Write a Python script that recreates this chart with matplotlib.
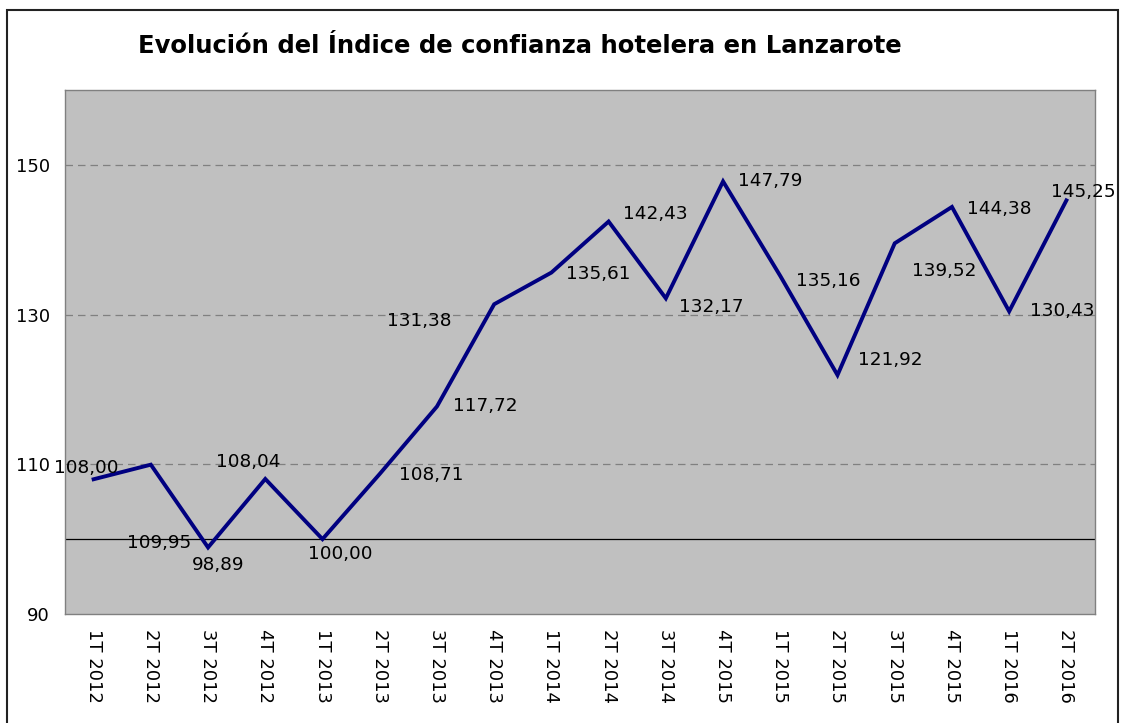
import matplotlib.pyplot as plt
from matplotlib.patches import Rectangle

trimestres = ["1T 2012", "2T 2012", "3T 2012", "4T 2012", "1T 2013", "2T 2013",
              "3T 2013", "4T 2013", "1T 2014", "2T 2014", "3T 2014", "4T 2015",
              "1T 2015", "2T 2015", "3T 2015", "4T 2015", "1T 2016", "2T 2016"]
indice = [108.00, 109.95, 98.89, 108.04, 100.00, 108.71, 117.72, 131.38, 135.61,
          142.43, 132.17, 147.79, 135.16, 121.92, 139.52, 144.38, 130.43, 145.25]
y_ticks = [90, 110, 130, 150]

# desplazamiento de cada etiqueta en pixeles (como en el original)
offsets = [(-7, 11), (8, -78), (10, -18), (-17, 17), (18, -15), (52, -1),
           (48, 0), (-75, -17), (47, -1), (47, 8), (45, -9), (47, 0),
           (48, -5), (53, 15), (50, -28), (47, -2), (53, 0), (17, 8)]

fig = plt.figure(figsize=(11.22, 7.23), dpi=100)
fig.patch.set_facecolor("white")
fig.patches.append(Rectangle((7 / 1122, -0.05), 1111 / 1122, 1.05 - 10 / 723,
                             transform=fig.transFigure, fill=False,
                             edgecolor="#222222", linewidth=1.5))

ax = fig.add_axes([65 / 1122, 109 / 723, 1030 / 1122, 524 / 723])
ax.set_facecolor("#C0C0C0")
for s in ax.spines.values():
    s.set_color("#808080")
    s.set_linewidth(1)

x = list(range(len(trimestres)))
for v in [110, 130, 150]:
    ax.axhline(v, color="#808080", linewidth=0.9, linestyle=(0, (6, 4)), zorder=1)
ax.axhline(100, color="black", linewidth=0.9, zorder=1)

ax.plot(x, indice, color="#000080", linewidth=2.8, zorder=3, solid_joinstyle="miter")

for xi, v, (dx, dy) in zip(x, indice, offsets):
    ax.annotate(f"{v:.2f}".replace(".", ","), (xi, v), xytext=(dx, dy),
                textcoords="offset pixels", ha="center", va="center",
                fontsize=13.3, color="black", zorder=4, annotation_clip=False)

ax.set_xlim(-0.5, len(trimestres) - 0.5)
ax.set_ylim(90, 160)
ax.set_yticks(y_ticks)
ax.set_xticks(x)
ax.set_xticklabels(trimestres, rotation=-90, fontsize=13)
ax.tick_params(axis="y", length=0, pad=11, labelsize=13)
ax.tick_params(axis="x", length=0, pad=11)

fig.text(520 / 1122, 1 - 46 / 723, "Evolución del Índice de confianza hotelera en Lanzarote",
         ha="center", va="center", fontsize=17.5, fontweight="bold")

plt.savefig("out.png", dpi=100)
